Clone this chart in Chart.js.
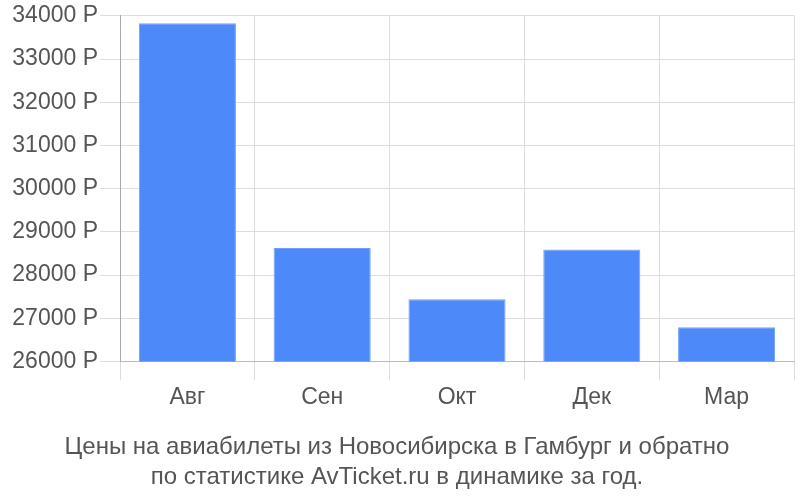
<!DOCTYPE html>
<html>
<head>
<meta charset="utf-8">
<script src="https://cdn.jsdelivr.net/npm/chart.js@4"></script>
<style>
html,body{margin:0;padding:0;background:#fff;}
#wrap{width:800px;height:500px;}
</style>
</head>
<body>
<div id="wrap"><canvas id="c" width="800" height="500"></canvas></div>
<script>
const categories = ['Авг', 'Сен', 'Окт', 'Дек', 'Мар'];
const prices = [33830, 28625, 27440, 28590, 26790];
const yMin = 26000;
const yMax = 34000;
const yStep = 1000;
const titleLines = ['Цены на авиабилеты из Новосибирска в Гамбург и обратно', 'по статистике AvTicket.ru в динамике за год.'];

const FONT = '"Liberation Sans", Arial, sans-serif';
const TXT = '#555555';

new Chart(document.getElementById('c'), {
  type: 'bar',
  data: {
    labels: categories,
    datasets: [{
      data: prices,
      backgroundColor: '#4d89f9',
      borderColor: '#6f9ffb',
      borderWidth: {top: 1, left: 1, right: 1, bottom: 0},
      barPercentage: 0.72,
      categoryPercentage: 1.0
    }]
  },
  options: {
    responsive: false,
    animation: false,
    devicePixelRatio: 1,
    layout: {padding: {left: 0, right: 6, top: 4, bottom: 8}},
    plugins: {
      legend: {display: false},
      tooltip: {enabled: false},
      title: {
        display: true,
        position: 'bottom',
        text: titleLines,
        color: TXT,
        font: {family: FONT, size: 24, weight: 'normal', lineHeight: 1.25},
        padding: {top: 18, bottom: 0}
      }
    },
    scales: {
      x: {
        grid: {color: '#dddddd', lineWidth: 1, offset: true, tickLength: 19, drawTicks: true},
        border: {color: '#bbbbbb'},
        ticks: {color: TXT, font: {family: FONT, size: 23, lineHeight: 1.2}, padding: 3}
      },
      y: {
        min: yMin,
        max: yMax,
        afterFit: (s) => { s.width = 120; },
        grid: {color: '#dddddd', lineWidth: 1, tickLength: 20},
        border: {color: '#aaaaaa'},
        ticks: {
          stepSize: yStep,
          color: TXT,
          font: {family: FONT, size: 23},
          padding: 2,
          callback: (v) => v + ' Р'
        }
      }
    }
  }
});
</script>
</body>
</html>
